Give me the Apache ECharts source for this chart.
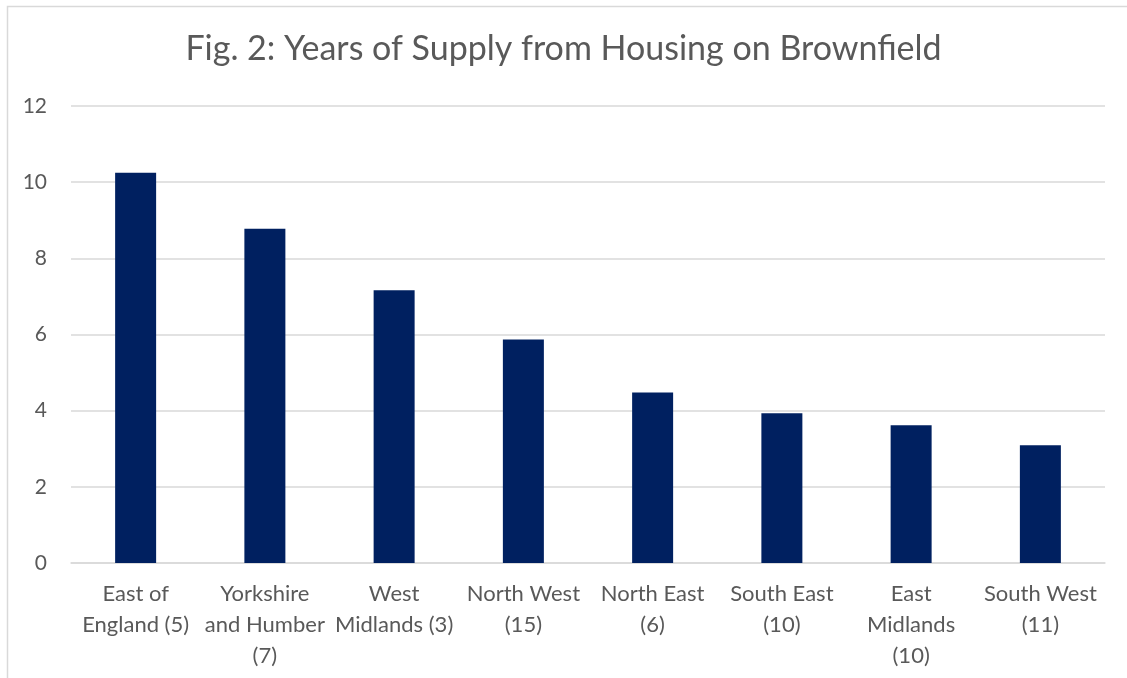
<!DOCTYPE html>
<html><head><meta charset="utf-8">
<script src="https://cdn.jsdelivr.net/npm/echarts@6/dist/echarts.min.js"></script>
<style>html,body{margin:0;padding:0;background:#fff}#c{width:1127px;height:678px}</style>
</head><body><div id="c"></div>
<script>
const titleText = 'Fig. 2: Years of Supply from Housing on Brownfield';
const categories = ['East of\nEngland (5)', 'Yorkshire\nand Humber\n(7)', 'West\nMidlands (3)', 'North West\n(15)', 'North East\n(6)', 'South East\n(10)', 'East\nMidlands\n(10)', 'South West\n(11)'];
const values = [10.25, 8.78, 7.16, 5.87, 4.48, 3.93, 3.62, 3.09];
const yTicks = [0, 2, 4, 6, 8, 10, 12];

const chart = echarts.init(document.getElementById('c'), null, {renderer: 'canvas'});
const font = 'Lato, "Open Sans", sans-serif';
chart.setOption({
  animation: false,
  backgroundColor: '#fff',
  title: {text: titleText, left: 'center', top: 27, textStyle: {fontFamily: font, fontSize: 34, fontWeight: 'normal', color: '#595959'}},
  graphic: [{type: 'rect', shape: {x: 7.5, y: 6.5, width: 1130, height: 700}, style: {fill: 'none', stroke: '#d9d9d9', lineWidth: 1.5}, silent: true, z: -1}],
  grid: {left: 71, right: 22, top: 106, bottom: 115, containLabel: false},
  xAxis: {type: 'category', data: categories,
    axisLine: {lineStyle: {color: '#d9d9d9', width: 1.5}}, axisTick: {show: false},
    axisLabel: {interval: 0, fontFamily: font, fontSize: 22, color: '#595959', margin: 15, lineHeight: 31}},
  yAxis: {type: 'value', min: yTicks[0], max: yTicks[yTicks.length - 1], interval: 2,
    axisLine: {show: false}, axisTick: {show: false},
    splitLine: {lineStyle: {color: '#d9d9d9', width: 1.5}},
    axisLabel: {fontFamily: font, fontSize: 21, color: '#595959', margin: 24}},
  series: [{type: 'bar', data: values, barWidth: 41, itemStyle: {color: '#002060'}}]
});
</script></body></html>
